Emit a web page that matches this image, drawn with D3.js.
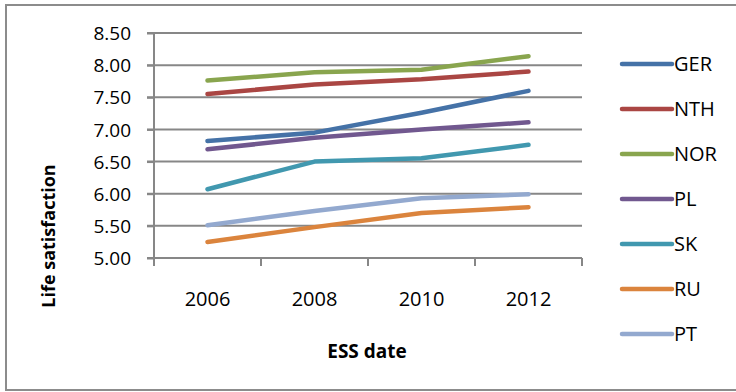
<!DOCTYPE html>
<html>
<head>
<meta charset="utf-8">
<script src="https://cdn.jsdelivr.net/npm/d3@7"></script>
<style>
  body { margin: 0; background: #fff; }
  text { font-family: "Open Sans", "DejaVu Sans", sans-serif; fill: #000; }
</style>
</head>
<body>
<div class="chart"></div>
<script>
// data
let years = ["2006", "2008", "2010", "2012"];
let countries = ["GER", "NTH", "NOR", "PL", "SK", "RU", "PT"];
let colors = ["#4572a7", "#aa4643", "#89a54e", "#71588f", "#4198af", "#db843d", "#93a9cf"];
let GER = [6.82, 6.95, 7.26, 7.60];
let NTH = [7.55, 7.70, 7.78, 7.90];
let NOR = [7.76, 7.89, 7.93, 8.14];
let PL = [6.69, 6.87, 7.00, 7.11];
let SK = [6.07, 6.50, 6.55, 6.76];
let RU = [5.25, 5.48, 5.70, 5.79];
let PT = [5.51, 5.73, 5.93, 5.99];
let yTicks = [5.0, 5.5, 6.0, 6.5, 7.0, 7.5, 8.0, 8.5];

let series = [GER, NTH, NOR, PL, SK, RU, PT];

let W = 736, H = 392;
let margin = { top: 33, right: 154, bottom: 134, left: 154 };
let width = 582 - margin.left;
let height = 258 - margin.top;

let root = d3.select(".chart").append("svg")
  .attr("width", W).attr("height", H);

// outer frame
root.append("rect")
  .attr("x", 6).attr("y", 5)
  .attr("width", W + 10).attr("height", H - 7)
  .attr("fill", "none").attr("stroke", "#8c8c8c").attr("stroke-width", 2);

let svg = root.append("g")
  .attr("transform", `translate(${margin.left}, ${margin.top})`);

let yScale = d3.scaleLinear().domain([5, 8.5]).range([height, 0]);
let xScale = d3.scaleBand().domain(years).range([0, width]);

// gridlines
svg.append("g")
  .selectAll("line")
  .data(yTicks.slice(1))
  .enter().append("line")
  .attr("x1", -7).attr("x2", width)
  .attr("y1", (d) => yScale(d)).attr("y2", (d) => yScale(d))
  .attr("stroke", "#878787").attr("stroke-width", 2);

// y axis
let yAxis = d3.axisLeft(yScale).tickValues(yTicks).tickSize(7)
  .tickFormat(d3.format(".2f"));
let yg = svg.append("g").call(yAxis);
yg.select(".domain").remove();
yg.selectAll("line").attr("stroke", "#878787").attr("stroke-width", 2);
yg.selectAll("text").style("font-size", "19px").attr("dy", "0.35em").attr("x", -23);
svg.append("line")
  .attr("x1", 0).attr("x2", 0).attr("y1", 0).attr("y2", height)
  .attr("stroke", "#878787").attr("stroke-width", 2);

// x axis
let xg = svg.append("g").attr("transform", `translate(0, ${height})`);
xg.append("line").attr("x1", -7).attr("x2", width)
  .attr("stroke", "#878787").attr("stroke-width", 2);
xg.selectAll(".tk")
  .data(years.concat(["end"]))
  .enter().append("line")
  .attr("x1", (d, i) => i * xScale.bandwidth())
  .attr("x2", (d, i) => i * xScale.bandwidth())
  .attr("y1", 0).attr("y2", 8)
  .attr("stroke", "#878787").attr("stroke-width", 2);
xg.selectAll(".lbl")
  .data(years)
  .enter().append("text")
  .attr("x", (d) => xScale(d) + xScale.bandwidth() / 2)
  .attr("y", 48)
  .attr("text-anchor", "middle")
  .style("font-size", "20px")
  .text((d) => d);

// lines
let line = d3.line()
  .x((d, i) => xScale(years[i]) + xScale.bandwidth() / 2)
  .y((d) => yScale(d));

svg.selectAll(".series")
  .data(series)
  .enter().append("path")
  .attr("d", line)
  .attr("fill", "none")
  .attr("stroke", (d, i) => colors[i])
  .attr("stroke-width", 4.5)
  .attr("stroke-linecap", "round")
  .attr("stroke-linejoin", "round");

// axis titles
root.append("text")
  .attr("x", 367).attr("y", 358)
  .attr("text-anchor", "middle")
  .style("font-size", "19px").style("font-weight", "bold")
  .text("ESS date");
root.append("text")
  .attr("transform", "translate(55, 236) rotate(-90)")
  .attr("text-anchor", "middle")
  .style("font-size", "18px").style("font-weight", "bold")
  .text("Life satisfaction");

// legend
let legend = root.append("g").attr("transform", "translate(620, 64)");
let items = legend.selectAll("g")
  .data(countries)
  .enter().append("g")
  .attr("transform", (d, i) => `translate(0, ${i * 45})`);
items.append("line")
  .attr("x1", 2).attr("x2", 52)
  .attr("stroke", (d, i) => colors[i])
  .attr("stroke-width", 4.5)
  .attr("stroke-linecap", "round");
items.append("text")
  .attr("x", 54).attr("dy", "0.35em")
  .style("font-size", "20px")
  .text((d) => d);
</script>
</body>
</html>
